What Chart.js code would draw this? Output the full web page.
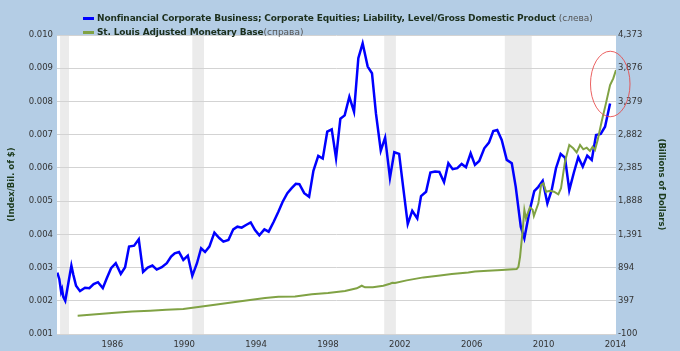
<!DOCTYPE html>
<html>
<head>
<meta charset="utf-8">
<script src="https://cdn.jsdelivr.net/npm/chart.js@4.4.1/dist/chart.umd.min.js"></script>
<style>
  body { margin: 0; background: #b4cde5; }
  #wrap { position: relative; width: 680px; height: 351px; background: #b4cde5; }
  #legend {
    position: absolute; left: 83px; top: 11px;
    font-family: "DejaVu Sans", sans-serif; font-size: 9px; font-weight: bold;
    letter-spacing: -0.15px;
    color: #1c2f1c; line-height: 14px; white-space: nowrap;
  }
  #legend .mk { display: inline-block; width: 11px; height: 3px; margin-right: 3px; vertical-align: middle; }
  #legend .side { font-weight: normal; color: #555; letter-spacing: 0; }
</style>
</head>
<body>
<div id="wrap">
  <canvas id="chart" width="680" height="351"></canvas>
  <div id="legend">
    <div><span class="mk" style="background:#0000ff"></span>Nonfinancial Corporate Business; Corporate Equities; Liability, Level/Gross Domestic Product <span class="side">(слева)</span></div>
    <div><span class="mk" style="background:#80a244"></span>St. Louis Adjusted Monetary Base<span class="side">(справа)</span></div>
  </div>
</div>
<script>
// ---- data ----
const equityYears = [1982.94, 1983.05, 1983.15, 1983.20, 1983.27, 1983.38, 1983.55, 1983.72, 1983.83, 1983.98,
  1984.20, 1984.48, 1984.72, 1984.96, 1985.20, 1985.47, 1985.69, 1985.93, 1986.19, 1986.47,
  1986.71, 1986.93, 1987.21, 1987.47, 1987.71, 1987.97, 1988.23, 1988.47, 1988.75, 1989.03,
  1989.27, 1989.47, 1989.71, 1989.95, 1990.20, 1990.45, 1990.71, 1990.94, 1991.16, 1991.40,
  1991.68, 1991.95, 1992.18, 1992.46, 1992.73, 1992.96, 1993.20, 1993.44, 1993.70, 1993.94,
  1994.18, 1994.46, 1994.70, 1994.98, 1995.24, 1995.48, 1995.74, 1995.98, 1996.21, 1996.41,
  1996.68, 1996.95, 1997.19, 1997.46, 1997.71, 1997.96, 1998.21, 1998.45, 1998.69, 1998.93,
  1999.19, 1999.45, 1999.69, 1999.93, 2000.21, 2000.45, 2000.67, 2000.94, 2001.18, 2001.45,
  2001.69, 2001.96, 2002.19, 2002.44, 2002.69, 2002.97, 2003.18, 2003.46, 2003.70, 2003.96,
  2004.20, 2004.46, 2004.70, 2004.94, 2005.20, 2005.44, 2005.68, 2005.94, 2006.18, 2006.42,
  2006.70, 2006.96, 2007.20, 2007.42, 2007.67, 2007.95, 2008.23, 2008.45, 2008.73, 2008.93,
  2009.22, 2009.48, 2009.71, 2009.95, 2010.21, 2010.45, 2010.69, 2010.95, 2011.19, 2011.43,
  2011.69, 2011.93, 2012.18, 2012.43, 2012.68, 2012.92, 2013.18, 2013.42, 2013.70];
const equityValues = [0.00285, 0.00265, 0.00227, 0.00235, 0.00212, 0.00200, 0.00253, 0.00306, 0.00278, 0.00245,
  0.00229, 0.00239, 0.00238, 0.00250, 0.00256, 0.00238, 0.00268, 0.00298, 0.00313, 0.00281,
  0.00301, 0.00363, 0.00366, 0.00385, 0.00287, 0.00300, 0.00306, 0.00294, 0.00301, 0.00313,
  0.00333, 0.00343, 0.00347, 0.00323, 0.00336, 0.00275, 0.00313, 0.00358, 0.00347, 0.00363,
  0.00405, 0.00389, 0.00378, 0.00383, 0.00415, 0.00423, 0.00420, 0.00428, 0.00436, 0.00413,
  0.00397, 0.00415, 0.00408, 0.00438, 0.00468, 0.00498, 0.00524, 0.00539, 0.00552, 0.00551,
  0.00524, 0.00513, 0.00591, 0.00636, 0.00628, 0.00709, 0.00716, 0.00629, 0.00748, 0.00758,
  0.00814, 0.00769, 0.00930, 0.00975, 0.00905, 0.00885, 0.00764, 0.00652, 0.00691, 0.00570,
  0.00647, 0.00642, 0.00540, 0.00431, 0.00471, 0.00448, 0.00515, 0.00528, 0.00586, 0.00589,
  0.00588, 0.00557, 0.00614, 0.00596, 0.00599, 0.00612, 0.00602, 0.00644, 0.00609, 0.00621,
  0.00659, 0.00676, 0.00711, 0.00714, 0.00684, 0.00624, 0.00614, 0.00543, 0.00423, 0.00388,
  0.00470, 0.00530, 0.00543, 0.00561, 0.00493, 0.00533, 0.00599, 0.00642, 0.00631, 0.00533,
  0.00587, 0.00632, 0.00604, 0.00637, 0.00624, 0.00699, 0.00702, 0.00724, 0.00794];

const baseYears = [1984.07, 1985.10, 1986.15, 1987.10, 1988.10, 1989.00, 1989.95, 1990.88, 1991.81, 1992.73,
  1993.66, 1994.50, 1995.24, 1996.17, 1997.10, 1998.00, 1998.95, 1999.60, 1999.88, 2000.06,
  2000.50, 2001.08, 2001.45, 2001.58, 2001.73, 2002.38, 2003.31, 2004.24, 2004.89, 2005.81,
  2006.18, 2006.90, 2007.67, 2008.50, 2008.60, 2008.69, 2008.82, 2008.93, 2009.02, 2009.15,
  2009.24, 2009.39, 2009.46, 2009.71, 2009.86, 2009.99, 2010.14, 2010.36, 2010.58, 2010.82,
  2010.97, 2011.19, 2011.43, 2011.65, 2011.84, 2012.03, 2012.21, 2012.40, 2012.58, 2012.73,
  2012.86, 2013.01, 2013.23, 2013.47, 2013.70, 2013.88, 2014.03];
const baseValues = [174, 195, 219, 238, 249, 262, 274, 308, 343, 374,
  408, 440, 458, 462, 494, 515, 543, 583, 622, 598,
  600, 622, 652, 666, 662, 702, 747, 775, 796, 821,
  836, 846, 856, 871, 906, 1055, 1405, 1754, 1630, 1729,
  1794, 1760, 1665, 1855, 2129, 2155, 2029, 2044, 2029, 1990,
  2080, 2478, 2728, 2678, 2618, 2728, 2663, 2687, 2638, 2702,
  2653, 2802, 3075, 3350, 3624, 3724, 3849];

const xTicks = [1986, 1990, 1994, 1998, 2002, 2006, 2010, 2014];
const leftTicks = [0.001, 0.002, 0.003, 0.004, 0.005, 0.006, 0.007, 0.008, 0.009, 0.010];
const rightTicks = [-100, 397, 894, 1391, 1888, 2385, 2882, 3379, 3876, 4373];

const recessionStarts = [1983.09, 1990.45, 2001.13, 2007.84];
const recessionEnds = [1983.59, 1991.10, 2001.78, 2009.34];

// red ellipse marked on the chart (centre year, centre value on right axis, radii)
const markYear = 2013.71, markValue = 3640, markRadiusYears = 1.1, markRadiusValue = 490;

const tickFont = { family: 'DejaVu Sans', size: 8.5 };
const titleFont = { family: 'DejaVu Sans', size: 8.5, weight: 'bold' };

function toPoints(xs, ys) {
    return xs.map((x, i) => ({ x: x, y: ys[i] }));
}

// white plot area + recession shading, drawn under the grid
const backdrop = {
    id: 'backdrop',
    beforeDraw(chart) {
        const { ctx, chartArea: a, scales } = chart;
        ctx.save();
        ctx.fillStyle = '#ffffff';
        ctx.fillRect(a.left, a.top, a.right - a.left, a.bottom - a.top);
        ctx.fillStyle = '#ebebeb';
        recessionStarts.forEach((s, i) => {
            const x0 = scales.x.getPixelForValue(s);
            const x1 = scales.x.getPixelForValue(recessionEnds[i]);
            ctx.fillRect(x0, a.top, x1 - x0, a.bottom - a.top);
        });
        ctx.restore();
    }
};

const ellipseMark = {
    id: 'ellipseMark',
    afterDatasetsDraw(chart) {
        const { ctx, scales } = chart;
        const cx = scales.x.getPixelForValue(markYear);
        const cy = scales.yRight.getPixelForValue(markValue);
        const rx = scales.x.getPixelForValue(markYear + markRadiusYears) - cx;
        const ry = cy - scales.yRight.getPixelForValue(markValue + markRadiusValue);
        ctx.save();
        ctx.strokeStyle = 'rgba(232, 70, 70, 0.85)';
        ctx.lineWidth = 1;
        ctx.beginPath();
        ctx.ellipse(cx, cy, rx, ry, 0, 0, Math.PI * 2);
        ctx.stroke();
        ctx.restore();
    }
};

function fixedTicks(values) {
    return function(scale) {
        scale.ticks = values.map(v => ({ value: v }));
    };
}

new Chart(document.getElementById('chart'), {
    type: 'line',
    data: {
        datasets: [{
            label: 'Nonfinancial Corporate Business; Corporate Equities; Liability, Level/Gross Domestic Product',
            data: toPoints(equityYears, equityValues),
            yAxisID: 'yLeft',
            borderColor: '#0000ff',
            borderWidth: 2.5,
            pointRadius: 0,
            order: 1
        }, {
            label: 'St. Louis Adjusted Monetary Base',
            data: toPoints(baseYears, baseValues),
            yAxisID: 'yRight',
            borderColor: '#80a244',
            borderWidth: 2,
            pointRadius: 0,
            order: 0
        }]
    },
    options: {
        responsive: false,
        animation: false,
        layout: { padding: { top: 35, left: 0, right: 0, bottom: 0 } },
        plugins: { legend: { display: false }, tooltip: { enabled: false } },
        scales: {
            x: {
                type: 'linear',
                min: 1982.92,
                max: 2014.03,
                grid: { display: false, drawTicks: false },
                border: { display: false },
                afterBuildTicks: fixedTicks(xTicks),
                afterFit: s => { s.height = 17; },
                ticks: {
                    font: tickFont, color: '#333', padding: 6, maxRotation: 0, autoSkip: false,
                    callback: v => String(v)
                }
            },
            yLeft: {
                position: 'left',
                min: 0.001,
                max: 0.010,
                afterBuildTicks: fixedTicks(leftTicks),
                afterFit: s => { s.width = 57; },
                grid: { color: '#d3d3d3', lineWidth: 1, drawTicks: false },
                border: { display: false },
                ticks: { font: tickFont, color: '#333', padding: 4, callback: v => v.toFixed(3) },
                title: {
                    display: true, text: '(Index/Bil. of $)', font: titleFont, color: '#1c3a1c',
                    padding: { top: 7, bottom: 0 }
                }
            },
            yRight: {
                position: 'right',
                min: -100,
                max: 4373,
                afterBuildTicks: fixedTicks(rightTicks),
                afterFit: s => { s.width = 64; },
                grid: { display: false, drawTicks: false },
                border: { display: false },
                ticks: { font: tickFont, color: '#333', padding: 2, callback: v => v.toLocaleString('en-US') },
                title: {
                    display: true, text: '(Billions of Dollars)', font: titleFont, color: '#1c3a1c',
                    padding: { top: 14, bottom: 0 }
                }
            }
        }
    },
    plugins: [backdrop, ellipseMark]
});
</script>
</body>
</html>
